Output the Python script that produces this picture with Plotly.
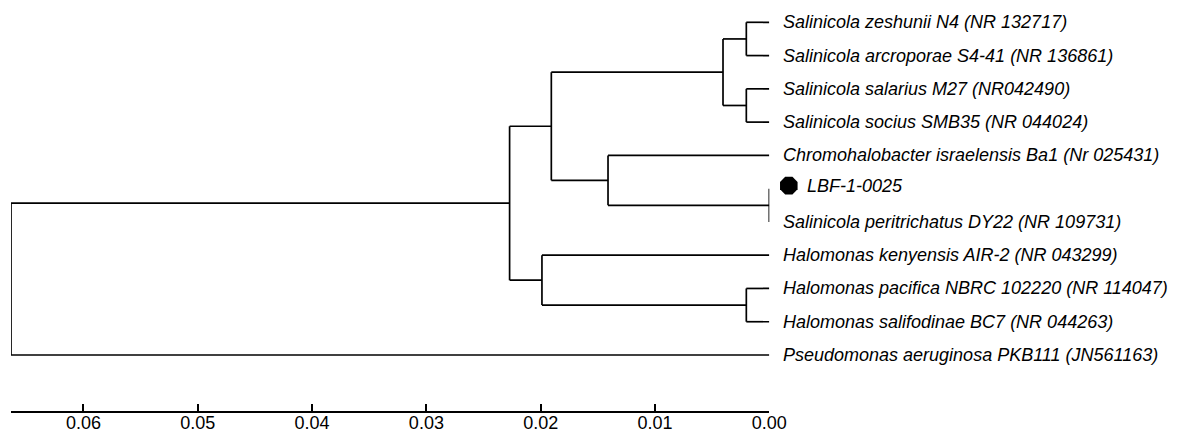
import plotly.graph_objects as go

# ---- data ----
leaf_names = [
    "Salinicola zeshunii N4 (NR 132717)",
    "Salinicola arcroporae S4-41 (NR 136861)",
    "Salinicola salarius M27 (NR042490)",
    "Salinicola socius SMB35 (NR 044024)",
    "Chromohalobacter israelensis Ba1 (Nr 025431)",
    "LBF-1-0025",
    "Salinicola peritrichatus DY22 (NR 109731)",
    "Halomonas kenyensis AIR-2 (NR 043299)",
    "Halomonas pacifica NBRC 102220 (NR 114047)",
    "Halomonas salifodinae BC7 (NR 044263)",
    "Pseudomonas aeruginosa PKB111 (JN561163)",
]
# internal nodes: height = distance from tips (branch length scale)
node_names = ["root", "A", "B", "C", "D", "D1", "D2", "E", "F", "G"]
node_heights = [0.06634, 0.02272, 0.01907, 0.01989, 0.00405, 0.00201, 0.00201, 0.01411, 0.0, 0.00201]
# children: ints are leaf indices, strings are internal nodes
node_children = {
    "root": ["A", 10],
    "A": ["B", "C"],
    "B": ["D", "E"],
    "D": ["D1", "D2"],
    "D1": [0, 1],
    "D2": [2, 3],
    "E": [4, "F"],
    "F": [5, 6],
    "C": [7, "G"],
    "G": [8, 9],
}
highlight_leaf = "LBF-1-0025"
tick_vals = [0.06, 0.05, 0.04, 0.03, 0.02, 0.01, 0.00]

# ---- layout helpers ----
W, H = 1189, 433
x_left_px, x_zero_px = 11, 769.3
plot_bottom_px = 411
leaf_y0_px, leaf_step_px = 22.3, 33.27

height_of = dict(zip(node_names, node_heights))
root_h = height_of["root"]

# geometry of tree
xs, ys = [], []


def place(n):
    if isinstance(n, int):
        return (0.0, float(n))
    kids = [place(c) for c in node_children[n]]
    h = height_of[n]
    ky = [k[1] for k in kids]
    xs.extend([h, h, None]); ys.extend([min(ky), max(ky), None])
    for kx, kyy in kids:
        xs.extend([h, kx, None]); ys.extend([kyy, kyy, None])
    return (h, (min(ky) + max(ky)) / 2)


place("root")

px_per_unit = (x_zero_px - x_left_px) / root_h

fig = go.Figure()
fig.add_trace(go.Scatter(x=xs, y=ys, mode="lines",
                         line=dict(color="black", width=1.7),
                         cliponaxis=False, hoverinfo="skip", showlegend=False))

# marker for the studied isolate, on a second x axis spanning the full width
hi = leaf_names.index(highlight_leaf)
fig.add_trace(go.Scatter(x=[-19.5 / px_per_unit], y=[hi - 3 / leaf_step_px], mode="markers",
                         xaxis="x2", yaxis="y",
                         marker=dict(symbol="octagon", size=19, color="black",
                                     line=dict(width=0)),
                         hoverinfo="skip", showlegend=False))

FONT = "Liberation Sans, Arial, sans-serif"
for i, name in enumerate(leaf_names):
    is_hi = name == highlight_leaf
    fig.add_annotation(x=0, y=i, xref="x", yref="y", text=name,
                       xanchor="left", yanchor="middle",
                       xshift=36 if is_hi else 12, yshift=3 if is_hi else 0,
                       showarrow=False,
                       font=dict(family=FONT, size=18, color="black", style="italic"))

y_top = -leaf_y0_px / leaf_step_px
y_bot = y_top + plot_bottom_px / leaf_step_px

fig.update_layout(
    autosize=True,
    margin=dict(l=0, r=0, t=0, b=H - plot_bottom_px, pad=0, autoexpand=False),
    paper_bgcolor="white", plot_bgcolor="rgba(0,0,0,0)",
    xaxis=dict(domain=[x_left_px / W, x_zero_px / W], automargin=False,
               range=[root_h, 0], showgrid=False, zeroline=False,
               showline=True, linecolor="black", linewidth=1.7,
               ticks="inside", ticklen=7, tickwidth=1.7, tickcolor="black",
               tickvals=tick_vals, tickformat=".2f", ticklabelstandoff=-5,
               tickfont=dict(family=FONT, size=18, color="black")),
    xaxis2=dict(domain=[0, 1], anchor="y", automargin=False,
                range=[root_h + x_left_px / px_per_unit, -(W - x_zero_px) / px_per_unit],
                visible=False, showgrid=False, zeroline=False),
    yaxis=dict(range=[y_bot, y_top], visible=False, automargin=False,
               showgrid=False, zeroline=False),
    showlegend=False,
)

fig.write_html(
    "out.html",
    default_width=f"{W}px; position:absolute; left:0; top:0",
    default_height=f"{H}px",
    config={"displayModeBar": False},
    post_script=(
        "document.documentElement.style.margin='0';"
        "document.documentElement.style.overflow='hidden';"
        "document.body.style.margin='0';"
        "document.body.style.overflow='hidden';"
    ),
)
